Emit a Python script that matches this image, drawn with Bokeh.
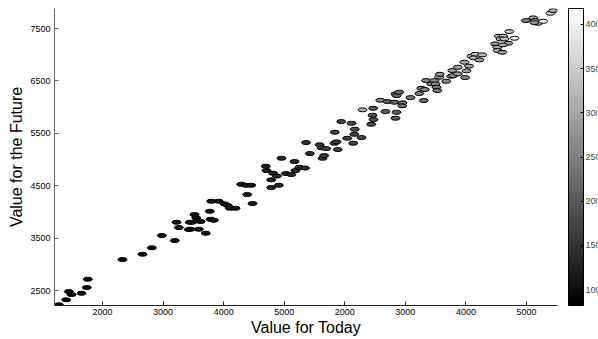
from bokeh.plotting import figure
from bokeh.models import LinearColorMapper, ColorBar, FixedTicker, ColumnDataSource, Range1d
from bokeh.embed import file_html
from bokeh.resources import INLINE

today = [1279, 1401, 1444, 1488, 1653, 1741, 1757, 2330, 2660, 2814,
         2979, 3194, 3222, 3260, 3425, 3441, 3453, 3590, 3519, 3547,
         3563, 3481, 3618, 3705, 3772, 3783, 3838, 3795, 3920, 4014,
         4069, 4102, 4196, 4389, 4477, 4290, 4366, 4455, 4696, 4708,
         4818, 4878, 4785, 4785, 4911, 4955, 5026, 5116, 5186, 5170,
         5249, 5343, 5360, 5423, 5583, 5616, 5632, 5660, 5693, 5835,
         5830, 5863, 5885, 5941, 6040, 6111, 6139, 6156, 6165, 6276,
         6293, 6436, 6458, 6474, 6469, 6585, 6672, 6705, 6821, 6837,
         6854, 6898, 6854, 6837, 6953, 6948, 7085, 7229, 7262, 7321,
         7305, 7344, 7427, 7481, 7498, 7514, 7526, 7559, 7569, 7675,
         7757, 7774, 7790, 7866, 7866, 7972, 7987, 8010, 8051, 8092,
         8155, 8130, 8221, 8269, 8483, 8516, 8526, 8599, 8543, 8616,
         8571, 8635, 8698, 8609, 8715, 8802, 8989, 9111, 9144, 9187,
         9132, 9276, 9396, 9441]
future = [2227, 2323, 2481, 2424, 2448, 2557, 2716, 3091, 3193, 3315,
          3549, 3454, 3803, 3702, 3664, 3803, 3670, 3670, 3950, 3887,
          3836, 3803, 3817, 3593, 4013, 3860, 3841, 4204, 4204, 4154,
          4122, 4070, 4070, 4332, 4160, 4528, 4509, 4509, 4872, 4790,
          4738, 4685, 4612, 4465, 4509, 5024, 4732, 4713, 4790, 4961,
          4851, 4837, 5324, 5114, 5282, 5223, 5024, 5076, 5209, 5520,
          5310, 5337, 5190, 5725, 5406, 5692, 5310, 5482, 5578, 5419,
          5948, 5673, 5845, 5763, 5978, 6131, 5915, 6106, 6093, 6253,
          6221, 6284, 5902, 5788, 6081, 6024, 6182, 6259, 6360, 6335,
          6125, 6507, 6444, 6507, 6444, 6379, 6316, 6570, 6627, 6493,
          6589, 6698, 6602, 6635, 6761, 6856, 6564, 6692, 6783, 6974,
          7007, 6940, 6902, 6997, 7207, 7142, 7079, 7047, 7352, 7352,
          7302, 7302, 7218, 7188, 7442, 7314, 7652, 7703, 7652, 7600,
          7613, 7638, 7791, 7842]
shade = [880, 900, 900, 880, 900, 920, 900, 950, 960, 980,
         1000, 990, 1000, 1020, 1010, 1030, 1000, 1040, 1050, 1030,
         1060, 1020, 1050, 1080, 1070, 1060, 1090, 1100, 1080, 1120,
         1110, 1130, 1100, 1150, 1120, 1150, 1180, 1160, 1250, 1230,
         1280, 1300, 1260, 1240, 1310, 1350, 1290, 1330, 1380, 1360,
         1400, 1420, 1500, 1450, 1600, 1580, 1520, 1560, 1620, 1700,
         1650, 1600, 1680, 1750, 1720, 1800, 1690, 1760, 1820, 1780,
         3200, 1850, 1900, 1880, 2000, 2600, 2100, 2050, 2150, 2300,
         2200, 2250, 2100, 2000, 2350, 2300, 2400, 2500, 2450, 2600,
         2300, 2550, 2500, 2700, 2650, 2400, 2450, 2750, 2800, 2600,
         2700, 2900, 2750, 2800, 3000, 3100, 2600, 2900, 3000, 3200,
         3400, 3100, 2900, 3300, 2800, 3000, 3100, 2900, 3200, 3500,
         3100, 3300, 2900, 3000, 3400, 4000, 2500, 3000, 2900, 3200,
         2800, 4100, 3600, 3000]

x_ticks = [2000, 3000, 4000, 5000, 6000, 7000, 8000, 9000]
x_tick_labels = ["2000", "3000", "4000", "5000", "2000", "3000", "4000", "5000"]
y_ticks = [2500, 3500, 4500, 5500, 6500, 7500]
cbar_ticks = [1000, 1500, 2000, 2500, 3000, 3500, 4000]

grays = ["#%02x%02x%02x" % (i, i, i) for i in range(256)]
mapper = LinearColorMapper(palette=grays, low=820, high=4180)

src = ColumnDataSource(dict(x=today, y=future, c=shade))

p = figure(width=598, height=339,
           x_range=Range1d(1207, 9512), y_range=Range1d(2214, 7882),
           output_backend="svg", toolbar_location=None,
           min_border_left=54, min_border_right=41,
           min_border_top=8, min_border_bottom=34)
p.grid.visible = False
p.outline_line_color = None
p.background_fill_color = "white"
p.border_fill_color = "white"

p.ellipse(x="x", y="y", width=9, height=4, width_units="screen", height_units="screen",
          fill_color={"field": "c", "transform": mapper}, line_color="black",
          line_width=1, source=src)

FONT = "Liberation Sans"
p.xaxis.ticker = FixedTicker(ticks=x_ticks)
p.xaxis.major_label_overrides = {t: l for t, l in zip(x_ticks, x_tick_labels)}
p.yaxis.ticker = FixedTicker(ticks=y_ticks)
for ax in (p.xaxis, p.yaxis):
    ax.minor_tick_line_color = None
    ax.major_tick_in = 4
    ax.major_tick_out = 0
    ax.major_label_text_font = FONT
    ax.major_label_text_font_size = "9px"
    ax.major_label_text_color = "black"
    ax.axis_label_text_font = FONT
    ax.axis_label_text_font_size = "16px"
    ax.axis_label_text_font_style = "normal"
    ax.axis_label_text_color = "black"
p.xaxis.axis_label = "Value for Today"
p.yaxis.axis_label = "Value for the Future"
p.xaxis.axis_line_color = "#222222"
p.xaxis.major_tick_line_color = "#222222"
p.yaxis.axis_line_color = "#666666"
p.yaxis.major_tick_line_color = "#666666"
p.xaxis.major_label_standoff = 3
p.xaxis.axis_label_standoff = 1
p.yaxis.major_label_standoff = 4
p.yaxis.axis_label_standoff = 2

cb = ColorBar(color_mapper=mapper, ticker=FixedTicker(ticks=cbar_ticks),
              width=15, height=297, location=(514, 0), padding=0, margin=0,
              bar_line_color="black", major_tick_line_color="black",
              major_tick_in=3, major_tick_out=0, label_standoff=2,
              major_label_text_font=FONT, major_label_text_font_size="9px",
              background_fill_alpha=0, border_line_color=None)
p.add_layout(cb, "center")

open("out.html", "w").write(file_html(p, INLINE))
